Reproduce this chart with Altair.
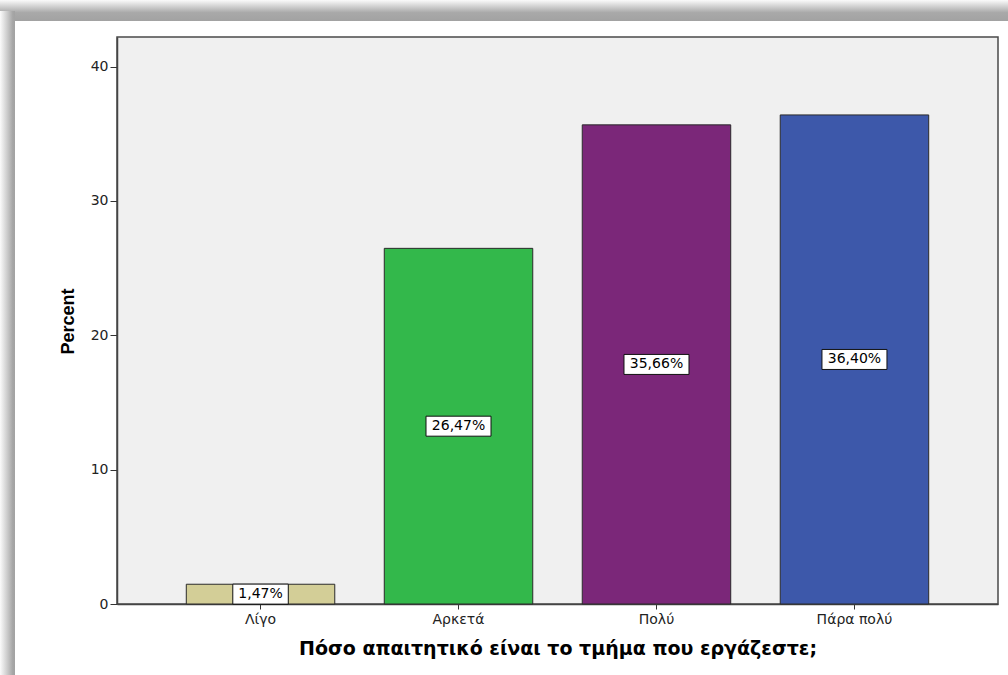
import altair as alt
import pandas as pd

# Survey answers and their shares (%)
categories = ["Λίγο", "Αρκετά", "Πολύ", "Πάρα πολύ"]
percents = [1.47, 26.47, 35.66, 36.40]
bar_colors = ["#D3CE97", "#33B84B", "#7B2779", "#3D58AA"]

x_title = "Πόσο απαιτητικό είναι το τμήμα που εργάζεστε;"
y_title = "Percent"

W, H = 881, 567
PAD = {"left": 117, "top": 37, "right": 10, "bottom": 71}
FONT = "Liberation Sans"
WIDE = "DejaVu Sans"

labels = [f"{v:.2f}".replace(".", ",") + "%" for v in percents]
df = pd.DataFrame({
    "cat": categories,
    "pct": percents,
    "label": labels,
    # label box width follows the text length
    "boxw": [len(s) * 9.5 + 8 for s in labels],
})

x_scale = alt.Scale(domain=categories, paddingInner=0.25, paddingOuter=0.35)
y_scale = alt.Scale(domain=[0, 42.2], nice=False)

x_enc = alt.X(
    "cat:N", scale=x_scale, sort=categories, title=x_title,
    axis=alt.Axis(labelAngle=0, labelFont=WIDE, labelFontSize=14, labelColor="#222",
                  tickSize=5, tickColor="#333", domainColor="#444", domainWidth=1.5,
                  labelPadding=3, titleFont=WIDE, titleFontSize=19,
                  titleFontWeight="bold", titleColor="#000", titleBaseline="middle",
                  titleY=44),
)

bars = alt.Chart(df).mark_bar(stroke="#2a2a2a", strokeWidth=1).encode(
    x=x_enc,
    y=alt.Y("pct:Q", scale=y_scale, title=y_title,
            axis=alt.Axis(values=[0, 10, 20, 30, 40], grid=False, labelFont=WIDE,
                          labelFontSize=14, labelColor="#222", tickSize=7,
                          tickColor="#333", domainColor="#444", domainWidth=1.5,
                          labelPadding=2, titleFont=FONT, titleFontSize=18,
                          titleFontWeight="bold", titleColor="#000",
                          titleX=-49, titleY=284, titleAlign="center",
                          titleBaseline="middle")),
    color=alt.Color("cat:N", scale=alt.Scale(domain=categories, range=bar_colors),
                    legend=None),
)

mid = alt.Chart(df).transform_calculate(half="datum.pct / 2")

boxes = mid.mark_tick(orient="horizontal", thickness=20, color="white", fill="white",
                      stroke="#111", strokeWidth=1, opacity=1, filled=True).encode(
    x=alt.X("cat:N", scale=x_scale, sort=categories),
    y=alt.Y("half:Q", scale=y_scale),
    size=alt.Size("boxw:Q", scale=None, legend=None),
)

texts = mid.mark_text(font=WIDE, fontSize=14, color="#000", baseline="middle").encode(
    x=alt.X("cat:N", scale=x_scale, sort=categories),
    y=alt.Y("half:Q", scale=y_scale),
    text="label:N",
)

# Soft drop-shadow frame around the chart panel
one = pd.DataFrame({"k": [0]})
top_band = alt.Chart(one).mark_rect(
    color=alt.LinearGradient(
        gradient="linear", x1=0, x2=0, y1=0, y2=1,
        stops=[alt.GradientStop(color="#fbfbfb", offset=0),
               alt.GradientStop(color="#d2d2d2", offset=0.3),
               alt.GradientStop(color="#a9a9a9", offset=0.6),
               alt.GradientStop(color="#a2a2a2", offset=1)])
).encode(x=alt.value(-117), x2=alt.value(891), y=alt.value(-37), y2=alt.value(-16))

left_band = alt.Chart(one).mark_rect(
    color=alt.LinearGradient(
        gradient="linear", x1=0, x2=1, y1=0, y2=0,
        stops=[alt.GradientStop(color="#fbfbfb", offset=0),
               alt.GradientStop(color="#cfcfcf", offset=0.45),
               alt.GradientStop(color="#a6a6a6", offset=0.85),
               alt.GradientStop(color="#a2a2a2", offset=1)])
).encode(x=alt.value(-117), x2=alt.value(-102), y=alt.value(-26), y2=alt.value(638))

chart = alt.layer(top_band, left_band, bars, boxes, texts).properties(
    width=W, height=H, padding=PAD, autosize=alt.AutoSizeParams(type="none"),
    background="white",
).configure_view(
    fill="#F0F0F0", stroke="#4a4a4a", strokeWidth=1.5,
)

chart.save("out.html", embed_options={"renderer": "svg", "actions": False})
